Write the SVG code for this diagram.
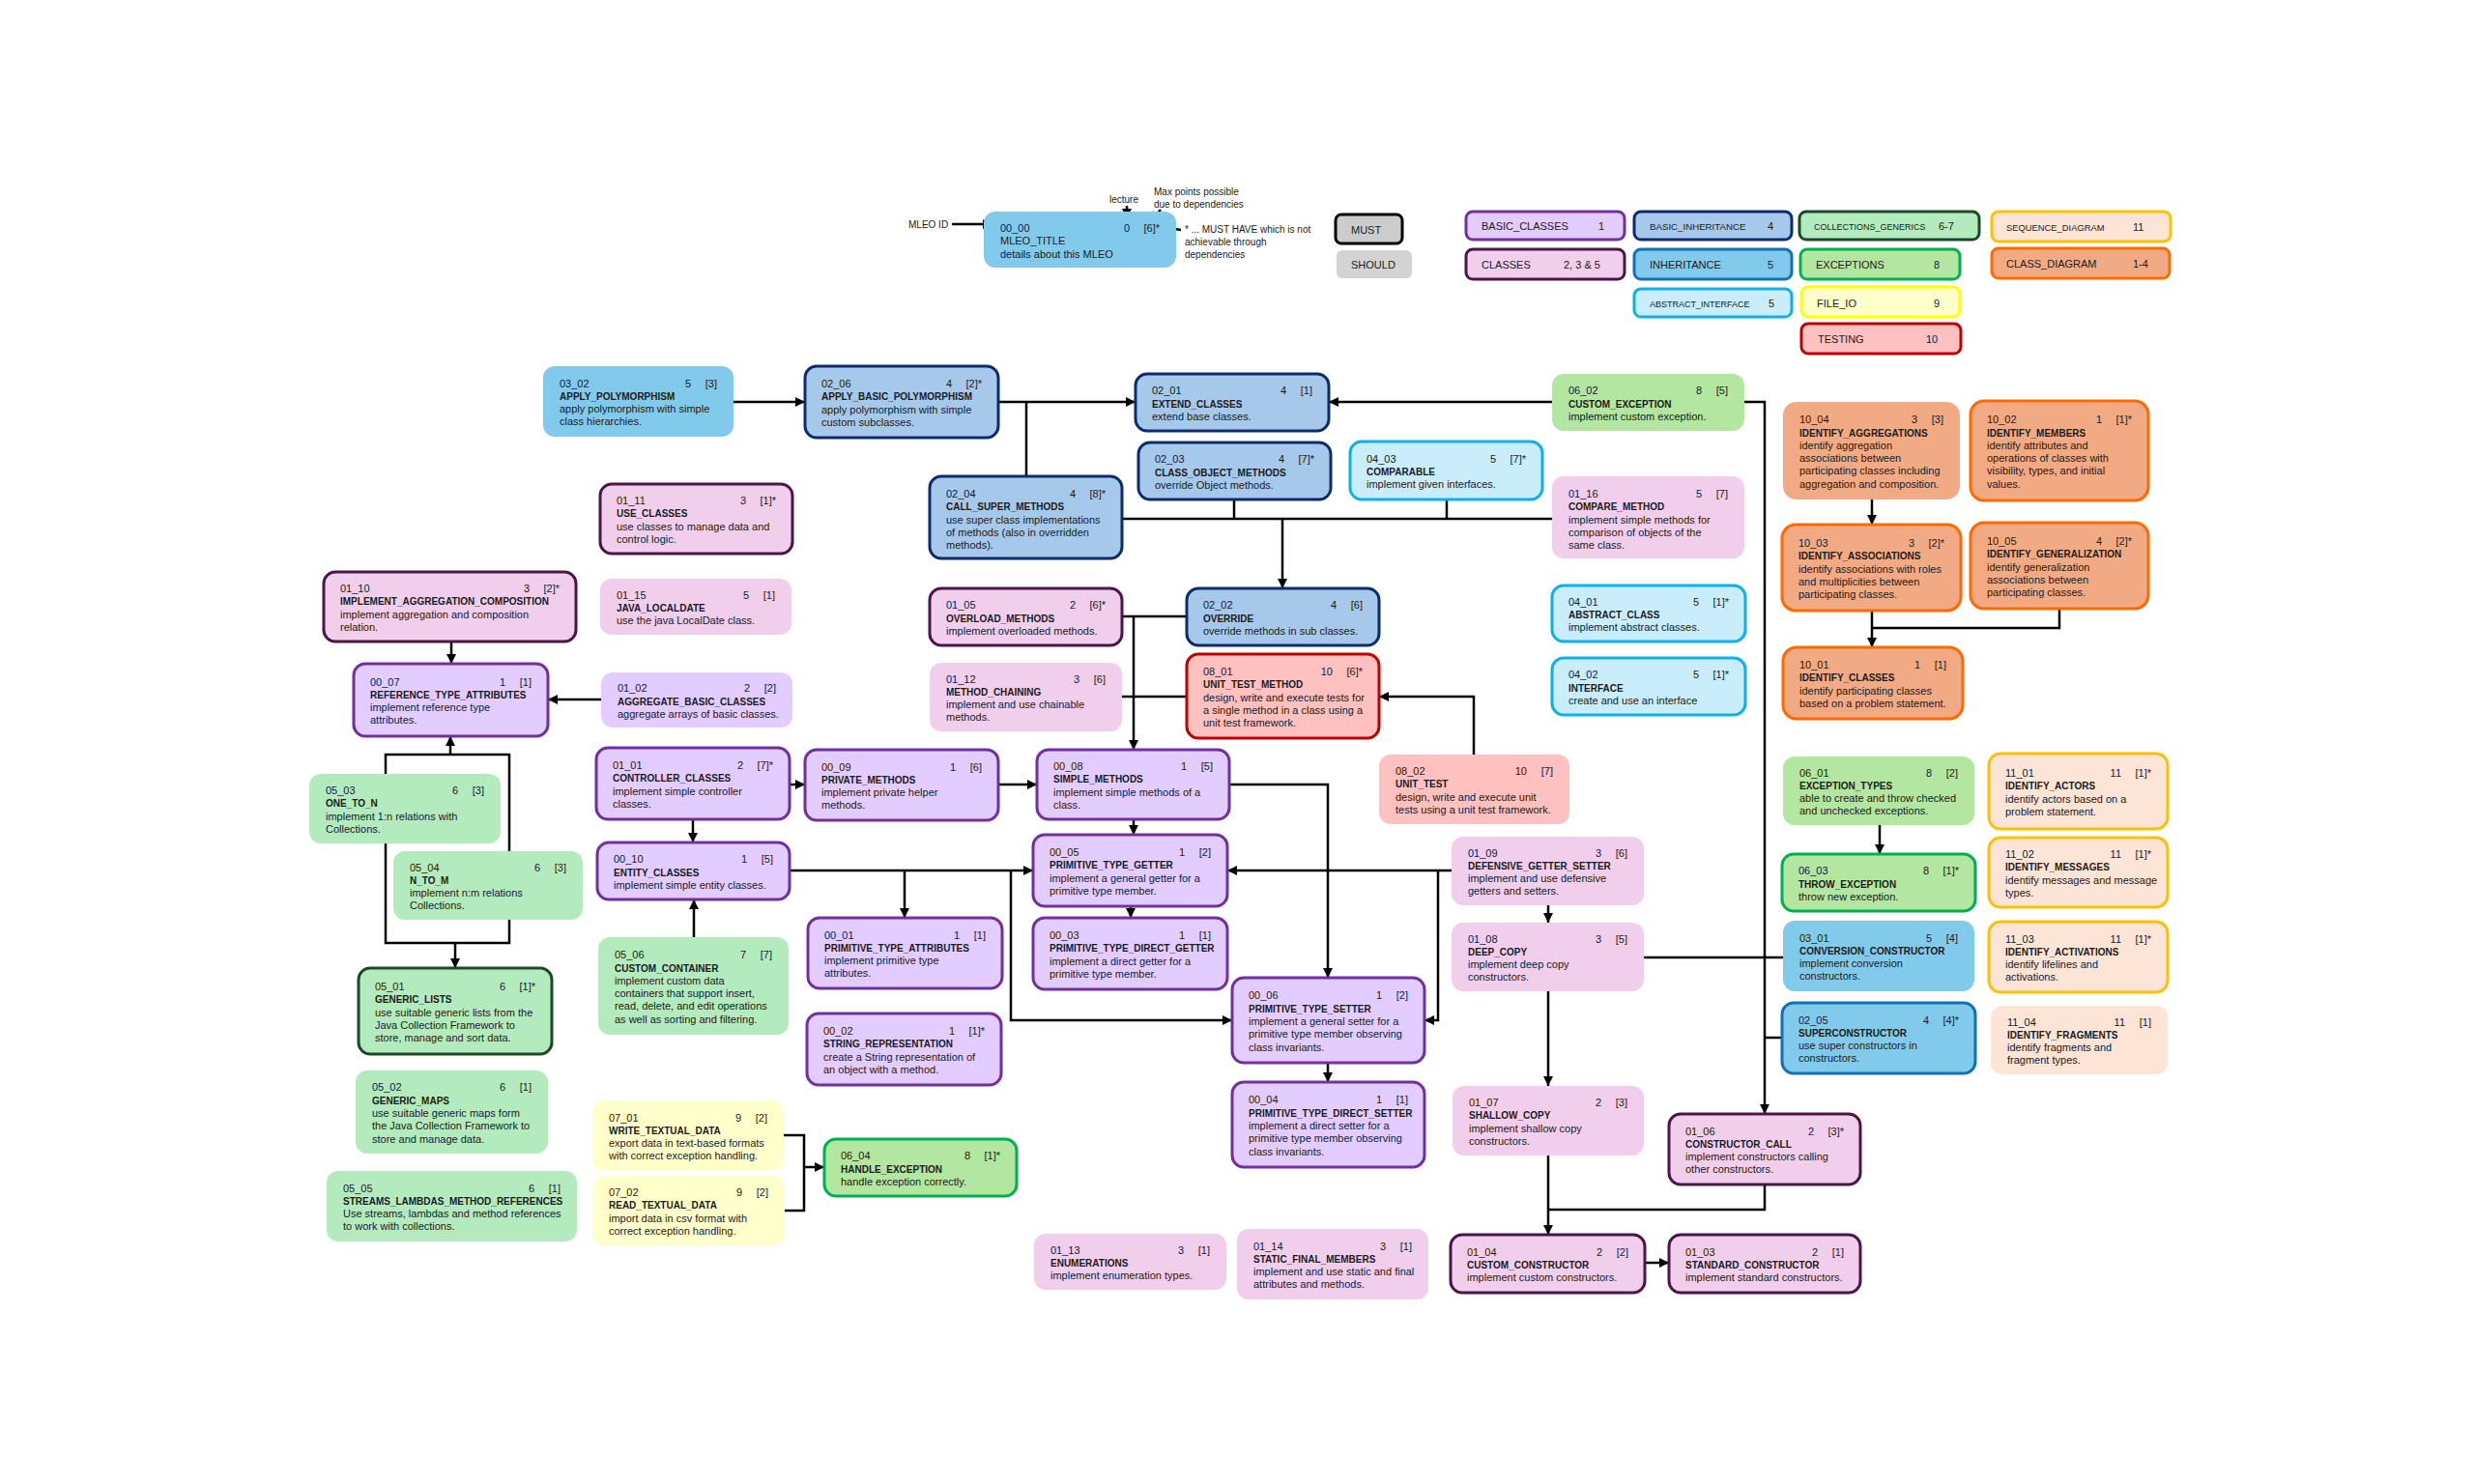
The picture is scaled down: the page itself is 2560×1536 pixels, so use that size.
<svg xmlns="http://www.w3.org/2000/svg" width="2560" height="1536" viewBox="0 0 2560 1536">
<defs>
<style>
text{font-family:"Liberation Sans",Arial,sans-serif;fill:#1a1a1a}
.t{font-size:11px}
.b{font-size:10px;font-weight:bold}
.e{text-anchor:end}
.a{font-size:10px}
.m{stroke-width:3}
.bc{fill:#E3CCFF;stroke:#7030A0}
.cl{fill:#F0CEEC;stroke:#4B1548}
.bi{fill:#A6C8EA;stroke:#0E2C6C}
.in{fill:#82CAEB;stroke:#1070B8}
.ab{fill:#C9EDFB;stroke:#0CB0EE}
.cg{fill:#B4EBBE;stroke:#1B4A27}
.ex{fill:#B3E6A1;stroke:#00B050}
.fi{fill:#FFFFCC;stroke:#FFFF00}
.te{fill:#FFC0C0;stroke:#C00000}
.sq{fill:#FCE4D6;stroke:#FFC000}
.cd{fill:#F2AA84;stroke:#FF6A00}
.s{stroke:none}
.c{fill:none;stroke:#000;stroke-width:2.5}
.ar{marker-end:url(#ah)}
</style>
<marker id="ah" viewBox="0 0 10 10" refX="10" refY="5" markerWidth="10" markerHeight="10" markerUnits="userSpaceOnUse" orient="auto"><path d="M0,0 L10,5 L0,10 z" fill="#000"/></marker>
</defs>
<rect width="2560" height="1536" fill="#fff"/>

<g id="legend">
<text class="a" x="940" y="236">MLEO ID</text>
<text class="a" x="1148" y="210">lecture</text>
<text class="a" x="1194" y="202">Max points possible</text>
<text class="a" x="1194" y="215">due to dependencies</text>
<text class="a" x="1226" y="241">* ... MUST HAVE which is not</text>
<text class="a" x="1226" y="254">achievable through</text>
<text class="a" x="1226" y="267">dependencies</text>
<rect x="1382" y="222" width="69" height="30" rx="6" fill="#CCCCCC" stroke="#000" stroke-width="3"/>
<text class="t" x="1398" y="242">MUST</text>
<rect x="1383" y="259" width="78" height="29" rx="6" fill="#D3D3D3"/>
<text class="t" x="1398" y="278">SHOULD</text>
<rect class="bc m" x="1517" y="219" width="164" height="29" rx="7"/>
<text class="t" x="1533" y="238">BASIC_CLASSES</text><text class="t" x="1654" y="238">1</text>
<rect class="cl m" x="1517" y="258" width="164" height="31" rx="7"/>
<text class="t" x="1533" y="278">CLASSES</text><text class="t" x="1618" y="278">2, 3 &amp; 5</text>
<rect class="bi m" x="1691" y="219" width="163" height="29" rx="7"/>
<text class="t" x="1707" y="238" style="font-size:9.7px">BASIC_INHERITANCE</text><text class="t" x="1829" y="238">4</text>
<rect class="in m" x="1691" y="258" width="163" height="31" rx="7"/>
<text class="t" x="1707" y="278">INHERITANCE</text><text class="t" x="1829" y="278">5</text>
<rect class="ab m" x="1691" y="299" width="163" height="29" rx="7"/>
<text class="t" x="1707" y="318" style="font-size:9px">ABSTRACT_INTERFACE</text><text class="t" x="1830" y="318">5</text>
<rect class="cg m" x="1862" y="219" width="186" height="29" rx="7"/>
<text class="t" x="1877" y="238" style="font-size:9px">COLLECTIONS_GENERICS</text><text class="t" x="2006" y="238">6-7</text>
<rect class="ex m" x="1863" y="258" width="165" height="31" rx="7"/>
<text class="t" x="1879" y="278">EXCEPTIONS</text><text class="t" x="2001" y="278">8</text>
<rect class="fi m" x="1864" y="297" width="164" height="31" rx="7"/>
<text class="t" x="1880" y="318">FILE_IO</text><text class="t" x="2001" y="318">9</text>
<rect class="te m" x="1864" y="335" width="165" height="31" rx="7"/>
<text class="t" x="1881" y="355">TESTING</text><text class="t" x="1993" y="355">10</text>
<rect class="sq m" x="2061" y="219" width="185" height="31" rx="7"/>
<text class="t" x="2076" y="239" style="font-size:9.4px">SEQUENCE_DIAGRAM</text><text class="t" x="2207" y="239">11</text>
<rect class="cd m" x="2061" y="257" width="184" height="31" rx="7"/>
<text class="t" x="2076" y="277">CLASS_DIAGRAM</text><text class="t" x="2207" y="277">1-4</text>
</g>

<g id="connectors">
<path class="c ar" d="M985,232 H1027"/>
<path class="c ar" d="M1166,213 V226" stroke-width="2"/>
<path class="c ar" d="M1201,217 L1191,229" stroke-width="2"/>
<path class="c ar" d="M1222,238 L1198,234" stroke-width="2"/>
<path class="c ar" d="M759,416 H833"/>
<path class="c ar" d="M1033,416 H1175"/>
<path class="c" d="M1062,493 V416"/>
<path class="c ar" d="M1606,416 H1375"/>
<path class="c ar" d="M1805,416 H1826 V1153"/>
<path class="c" d="M1701,991 H1845"/>
<path class="c" d="M1844,1074 H1826"/>
<path class="c" d="M1826,1226 V1252 H1602"/>
<path class="c ar" d="M1602,1196 V1278"/>
<path class="c ar" d="M1702,1307 H1727"/>
<path class="c ar" d="M1602,1026 V1124"/>
<path class="c ar" d="M1602,937 V955"/>
<path class="c" d="M1161,537 H1606"/>
<path class="c" d="M1277,517 V537"/>
<path class="c" d="M1497,517 V537"/>
<path class="c ar" d="M1327,537 V609"/>
<path class="c ar" d="M1937,517 V543"/>
<path class="c ar" d="M1937,632 V670"/>
<path class="c" d="M2131,630 V650 H1937"/>
<path class="c ar" d="M1945,854 V884"/>
<path class="c" d="M1161,638 H1228"/>
<path class="c ar" d="M1173,638 V776"/>
<path class="c" d="M1161,721 H1228"/>
<path class="c ar" d="M1525,781 V721 H1427"/>
<path class="c ar" d="M1272,812 H1374 V1012"/>
<path class="c ar" d="M817,812 H833"/>
<path class="c ar" d="M1033,812 H1073"/>
<path class="c ar" d="M1173,848 V864"/>
<path class="c ar" d="M1170,938 V950"/>
<path class="c ar" d="M817,901 H1069"/>
<path class="c ar" d="M936,901 V950"/>
<path class="c ar" d="M1046,901 V1056 H1275"/>
<path class="c ar" d="M1502,901 H1270"/>
<path class="c ar" d="M1488,901 V1056 H1474"/>
<path class="c ar" d="M1374,1100 V1120"/>
<path class="c ar" d="M717,848 V872"/>
<path class="c ar" d="M718,970 V931"/>
<path class="c ar" d="M467,664 V687"/>
<path class="c ar" d="M622,724 H567"/>
<path class="c" d="M399,976 V781 H527 V976 Z"/>
<path class="c ar" d="M466,781 V762"/>
<path class="c ar" d="M471,976 V1002"/>
<path class="c" d="M811,1175 H832 V1253 H812"/>
<path class="c ar" d="M832,1208 H853"/>
</g>

<g id="n00_00" transform="translate(1018,219)"><rect class="in s" width="199" height="58" rx="12"/><text class="t" y="21"><tspan x="17">00_00</tspan><tspan x="17" dy="13.3">MLEO_TITLE</tspan><tspan x="17" dy="13.3">details about this MLEO</tspan></text><text class="t e" y="21"><tspan x="151">0</tspan><tspan x="182">[6]*</tspan></text></g>

<g id="n03_02" transform="translate(562,379)"><rect class="in s" width="197" height="73" rx="12"/><text class="t" y="21.5"><tspan x="17">03_02</tspan><tspan x="17" dy="13.3" class="b">APPLY_POLYMORPHISM</tspan><tspan x="17" dy="13.3">apply polymorphism with simple</tspan><tspan x="17" dy="13.3">class hierarchies.</tspan></text><text class="t e" y="21.5"><tspan x="153">5</tspan><tspan x="180">[3]</tspan></text></g>

<g id="n02_06" transform="translate(833,379)"><rect class="bi m" width="200" height="74" rx="12"/><text class="t" y="22"><tspan x="17">02_06</tspan><tspan x="17" dy="13.3" class="b">APPLY_BASIC_POLYMORPHISM</tspan><tspan x="17" dy="13.3">apply polymorphism with simple</tspan><tspan x="17" dy="13.3">custom subclasses.</tspan></text><text class="t e" y="22"><tspan x="152">4</tspan><tspan x="183">[2]*</tspan></text></g>

<g id="n02_01" transform="translate(1175,387)"><rect class="bi m" width="200" height="59" rx="12"/><text class="t" y="21.2"><tspan x="17">02_01</tspan><tspan x="17" dy="13.3" class="b">EXTEND_CLASSES</tspan><tspan x="17" dy="13.3">extend base classes.</tspan></text><text class="t e" y="21.2"><tspan x="156">4</tspan><tspan x="183">[1]</tspan></text></g>

<g id="n02_03" transform="translate(1178,458)"><rect class="bi m" width="199" height="59" rx="12"/><text class="t" y="21.2"><tspan x="17">02_03</tspan><tspan x="17" dy="13.3" class="b">CLASS_OBJECT_METHODS</tspan><tspan x="17" dy="13.3">override Object methods.</tspan></text><text class="t e" y="21.2"><tspan x="151">4</tspan><tspan x="182">[7]*</tspan></text></g>

<g id="n04_03" transform="translate(1397,457)"><rect class="ab m" width="199" height="60" rx="12"/><text class="t" y="21.7"><tspan x="17">04_03</tspan><tspan x="17" dy="13.3" class="b">COMPARABLE</tspan><tspan x="17" dy="13.3">implement given interfaces.</tspan></text><text class="t e" y="21.7"><tspan x="151">5</tspan><tspan x="182">[7]*</tspan></text></g>

<g id="n06_02" transform="translate(1606,387)"><rect class="ex s" width="199" height="59" rx="12"/><text class="t" y="21.2"><tspan x="17">06_02</tspan><tspan x="17" dy="13.3" class="b">CUSTOM_EXCEPTION</tspan><tspan x="17" dy="13.3">implement custom exception.</tspan></text><text class="t e" y="21.2"><tspan x="155">8</tspan><tspan x="182">[5]</tspan></text></g>

<g id="n02_04" transform="translate(962,493)"><rect class="bi m" width="199" height="85" rx="12"/><text class="t" y="22"><tspan x="17">02_04</tspan><tspan x="17" dy="13.3" class="b">CALL_SUPER_METHODS</tspan><tspan x="17" dy="13.3">use super class implementations</tspan><tspan x="17" dy="13.3">of methods (also in overridden</tspan><tspan x="17" dy="13.3">methods).</tspan></text><text class="t e" y="22"><tspan x="151">4</tspan><tspan x="182">[8]*</tspan></text></g>

<g id="n01_16" transform="translate(1606,493)"><rect class="cl s" width="199" height="85" rx="12"/><text class="t" y="22"><tspan x="17">01_16</tspan><tspan x="17" dy="13.3" class="b">COMPARE_METHOD</tspan><tspan x="17" dy="13.3">implement simple methods for</tspan><tspan x="17" dy="13.3">comparison of objects of the</tspan><tspan x="17" dy="13.3">same class.</tspan></text><text class="t e" y="22"><tspan x="155">5</tspan><tspan x="182">[7]</tspan></text></g>

<g id="n01_11" transform="translate(621,501)"><rect class="cl m" width="199" height="72" rx="12"/><text class="t" y="21"><tspan x="17">01_11</tspan><tspan x="17" dy="13.3" class="b">USE_CLASSES</tspan><tspan x="17" dy="13.3">use classes to manage data and</tspan><tspan x="17" dy="13.3">control logic.</tspan></text><text class="t e" y="21"><tspan x="151">3</tspan><tspan x="182">[1]*</tspan></text></g>

<g id="n10_04" transform="translate(1845,416)"><rect class="cd s" width="183" height="101" rx="14"/><text class="t" y="22.2"><tspan x="17">10_04</tspan><tspan x="17" dy="13.3" class="b">IDENTIFY_AGGREGATIONS</tspan><tspan x="17" dy="13.3">identify aggregation</tspan><tspan x="17" dy="13.3">associations between</tspan><tspan x="17" dy="13.3">participating classes including</tspan><tspan x="17" dy="13.3">aggregation and composition.</tspan></text><text class="t e" y="22.2"><tspan x="139">3</tspan><tspan x="166">[3]</tspan></text></g>

<g id="n10_02" transform="translate(2039,415)"><rect class="cd m" width="184" height="103" rx="14"/><text class="t" y="23.2"><tspan x="17">10_02</tspan><tspan x="17" dy="13.3" class="b">IDENTIFY_MEMBERS</tspan><tspan x="17" dy="13.3">identify attributes and</tspan><tspan x="17" dy="13.3">operations of classes with</tspan><tspan x="17" dy="13.3">visibility, types, and initial</tspan><tspan x="17" dy="13.3">values.</tspan></text><text class="t e" y="23.2"><tspan x="136">1</tspan><tspan x="167">[1]*</tspan></text></g>

<g id="n10_03" transform="translate(1844,543)"><rect class="cd m" width="185" height="89" rx="14"/><text class="t" y="22.9"><tspan x="17">10_03</tspan><tspan x="17" dy="13.3" class="b">IDENTIFY_ASSOCIATIONS</tspan><tspan x="17" dy="13.3">identify associations with roles</tspan><tspan x="17" dy="13.3">and multiplicities between</tspan><tspan x="17" dy="13.3">participating classes.</tspan></text><text class="t e" y="22.9"><tspan x="137">3</tspan><tspan x="168">[2]*</tspan></text></g>

<g id="n10_05" transform="translate(2039,541)"><rect class="cd m" width="184" height="89" rx="14"/><text class="t" y="22.9"><tspan x="17">10_05</tspan><tspan x="17" dy="13.3" class="b">IDENTIFY_GENERALIZATION</tspan><tspan x="17" dy="13.3">identify generalization</tspan><tspan x="17" dy="13.3">associations between</tspan><tspan x="17" dy="13.3">participating classes.</tspan></text><text class="t e" y="22.9"><tspan x="136">4</tspan><tspan x="167">[2]*</tspan></text></g>

<g id="n10_01" transform="translate(1845,670)"><rect class="cd m" width="186" height="74" rx="14"/><text class="t" y="22"><tspan x="17">10_01</tspan><tspan x="17" dy="13.3" class="b">IDENTIFY_CLASSES</tspan><tspan x="17" dy="13.3">identify participating classes</tspan><tspan x="17" dy="13.3">based on a problem statement.</tspan></text><text class="t e" y="22"><tspan x="142">1</tspan><tspan x="169">[1]</tspan></text></g>

<g id="n01_10" transform="translate(335,592)"><rect class="cl m" width="261" height="72" rx="12"/><text class="t" y="21"><tspan x="17">01_10</tspan><tspan x="17" dy="13.3" class="b">IMPLEMENT_AGGREGATION_COMPOSITION</tspan><tspan x="17" dy="13.3">implement aggregation and composition</tspan><tspan x="17" dy="13.3">relation.</tspan></text><text class="t e" y="21"><tspan x="213">3</tspan><tspan x="244">[2]*</tspan></text></g>

<g id="n01_15" transform="translate(621,599)"><rect class="cl s" width="198" height="58" rx="12"/><text class="t" y="20.7"><tspan x="17">01_15</tspan><tspan x="17" dy="13.3" class="b">JAVA_LOCALDATE</tspan><tspan x="17" dy="13.3">use the java LocalDate class.</tspan></text><text class="t e" y="20.7"><tspan x="154">5</tspan><tspan x="181">[1]</tspan></text></g>

<g id="n01_05" transform="translate(962,609)"><rect class="cl m" width="199" height="59" rx="12"/><text class="t" y="21.2"><tspan x="17">01_05</tspan><tspan x="17" dy="13.3" class="b">OVERLOAD_METHODS</tspan><tspan x="17" dy="13.3">implement overloaded methods.</tspan></text><text class="t e" y="21.2"><tspan x="151">2</tspan><tspan x="182">[6]*</tspan></text></g>

<g id="n02_02" transform="translate(1228,609)"><rect class="bi m" width="199" height="59" rx="12"/><text class="t" y="21.2"><tspan x="17">02_02</tspan><tspan x="17" dy="13.3" class="b">OVERRIDE</tspan><tspan x="17" dy="13.3">override methods in sub classes.</tspan></text><text class="t e" y="21.2"><tspan x="155">4</tspan><tspan x="182">[6]</tspan></text></g>

<g id="n04_01" transform="translate(1606,606)"><rect class="ab m" width="200" height="58" rx="12"/><text class="t" y="20.7"><tspan x="17">04_01</tspan><tspan x="17" dy="13.3" class="b">ABSTRACT_CLASS</tspan><tspan x="17" dy="13.3">implement abstract classes.</tspan></text><text class="t e" y="20.7"><tspan x="152">5</tspan><tspan x="183">[1]*</tspan></text></g>

<g id="n04_02" transform="translate(1606,681)"><rect class="ab m" width="200" height="59" rx="12"/><text class="t" y="21.2"><tspan x="17">04_02</tspan><tspan x="17" dy="13.3" class="b">INTERFACE</tspan><tspan x="17" dy="13.3">create and use an interface</tspan></text><text class="t e" y="21.2"><tspan x="152">5</tspan><tspan x="183">[1]*</tspan></text></g>

<g id="n00_07" transform="translate(366,687)"><rect class="bc m" width="201" height="75" rx="12"/><text class="t" y="22.5"><tspan x="17">00_07</tspan><tspan x="17" dy="13.3" class="b">REFERENCE_TYPE_ATTRIBUTES</tspan><tspan x="17" dy="13.3">implement reference type</tspan><tspan x="17" dy="13.3">attributes.</tspan></text><text class="t e" y="22.5"><tspan x="157">1</tspan><tspan x="184">[1]</tspan></text></g>

<g id="n01_02" transform="translate(622,696)"><rect class="bc s" width="198" height="57" rx="12"/><text class="t" y="20.2"><tspan x="17">01_02</tspan><tspan x="17" dy="13.3" class="b">AGGREGATE_BASIC_CLASSES</tspan><tspan x="17" dy="13.3">aggregate arrays of basic classes.</tspan></text><text class="t e" y="20.2"><tspan x="154">2</tspan><tspan x="181">[2]</tspan></text></g>

<g id="n01_12" transform="translate(962,686)"><rect class="cl s" width="199" height="71" rx="12"/><text class="t" y="20.5"><tspan x="17">01_12</tspan><tspan x="17" dy="13.3" class="b">METHOD_CHAINING</tspan><tspan x="17" dy="13.3">implement and use chainable</tspan><tspan x="17" dy="13.3">methods.</tspan></text><text class="t e" y="20.5"><tspan x="155">3</tspan><tspan x="182">[6]</tspan></text></g>

<g id="n08_01" transform="translate(1228,677)"><rect class="te m" width="199" height="87" rx="12"/><text class="t" y="21.9"><tspan x="17">08_01</tspan><tspan x="17" dy="13.3" class="b">UNIT_TEST_METHOD</tspan><tspan x="17" dy="13.3">design, write and execute tests for</tspan><tspan x="17" dy="13.3">a single method in a class using a</tspan><tspan x="17" dy="13.3">unit test framework.</tspan></text><text class="t e" y="21.9"><tspan x="151">10</tspan><tspan x="182">[6]*</tspan></text></g>

<g id="n01_01" transform="translate(617,774)"><rect class="bc m" width="200" height="74" rx="12"/><text class="t" y="22"><tspan x="17">01_01</tspan><tspan x="17" dy="13.3" class="b">CONTROLLER_CLASSES</tspan><tspan x="17" dy="13.3">implement simple controller</tspan><tspan x="17" dy="13.3">classes.</tspan></text><text class="t e" y="22"><tspan x="152">2</tspan><tspan x="183">[7]*</tspan></text></g>

<g id="n00_09" transform="translate(833,776)"><rect class="bc m" width="200" height="73" rx="12"/><text class="t" y="21.5"><tspan x="17">00_09</tspan><tspan x="17" dy="13.3" class="b">PRIVATE_METHODS</tspan><tspan x="17" dy="13.3">implement private helper</tspan><tspan x="17" dy="13.3">methods.</tspan></text><text class="t e" y="21.5"><tspan x="156">1</tspan><tspan x="183">[6]</tspan></text></g>

<g id="n00_08" transform="translate(1073,776)"><rect class="bc m" width="199" height="72" rx="12"/><text class="t" y="21"><tspan x="17">00_08</tspan><tspan x="17" dy="13.3" class="b">SIMPLE_METHODS</tspan><tspan x="17" dy="13.3">implement simple methods of a</tspan><tspan x="17" dy="13.3">class.</tspan></text><text class="t e" y="21"><tspan x="155">1</tspan><tspan x="182">[5]</tspan></text></g>

<g id="n08_02" transform="translate(1427,781)"><rect class="te s" width="197" height="72" rx="12"/><text class="t" y="21"><tspan x="17">08_02</tspan><tspan x="17" dy="13.3" class="b">UNIT_TEST</tspan><tspan x="17" dy="13.3">design, write and execute unit</tspan><tspan x="17" dy="13.3">tests using a unit test framework.</tspan></text><text class="t e" y="21"><tspan x="153">10</tspan><tspan x="180">[7]</tspan></text></g>

<g id="n05_03" transform="translate(320,801)"><rect class="cg s" width="198" height="72" rx="12"/><text class="t" y="21"><tspan x="17">05_03</tspan><tspan x="17" dy="13.3" class="b">ONE_TO_N</tspan><tspan x="17" dy="13.3">implement 1:n relations with</tspan><tspan x="17" dy="13.3">Collections.</tspan></text><text class="t e" y="21"><tspan x="154">6</tspan><tspan x="181">[3]</tspan></text></g>

<g id="n06_01" transform="translate(1845,783)"><rect class="ex s" width="198" height="71" rx="12"/><text class="t" y="20.5"><tspan x="17">06_01</tspan><tspan x="17" dy="13.3" class="b">EXCEPTION_TYPES</tspan><tspan x="17" dy="13.3">able to create and throw checked</tspan><tspan x="17" dy="13.3">and unchecked exceptions.</tspan></text><text class="t e" y="20.5"><tspan x="154">8</tspan><tspan x="181">[2]</tspan></text></g>

<g id="n11_01" transform="translate(2058,780)"><rect class="sq m" width="185" height="78" rx="12"/><text class="t" y="24"><tspan x="17">11_01</tspan><tspan x="17" dy="13.3" class="b">IDENTIFY_ACTORS</tspan><tspan x="17" dy="13.3">identify actors based on a</tspan><tspan x="17" dy="13.3">problem statement.</tspan></text><text class="t e" y="24"><tspan x="137">11</tspan><tspan x="168">[1]*</tspan></text></g>

<g id="n00_05" transform="translate(1069,864)"><rect class="bc m" width="201" height="74" rx="12"/><text class="t" y="22"><tspan x="17">00_05</tspan><tspan x="17" dy="13.3" class="b">PRIMITIVE_TYPE_GETTER</tspan><tspan x="17" dy="13.3">implement a general getter for a</tspan><tspan x="17" dy="13.3">primitive type member.</tspan></text><text class="t e" y="22"><tspan x="157">1</tspan><tspan x="184">[2]</tspan></text></g>

<g id="n01_09" transform="translate(1502,866)"><rect class="cl s" width="199" height="71" rx="12"/><text class="t" y="20.5"><tspan x="17">01_09</tspan><tspan x="17" dy="13.3" class="b">DEFENSIVE_GETTER_SETTER</tspan><tspan x="17" dy="13.3">implement and use defensive</tspan><tspan x="17" dy="13.3">getters and setters.</tspan></text><text class="t e" y="20.5"><tspan x="155">3</tspan><tspan x="182">[6]</tspan></text></g>

<g id="n00_10" transform="translate(618,872)"><rect class="bc m" width="199" height="59" rx="12"/><text class="t" y="21.2"><tspan x="17">00_10</tspan><tspan x="17" dy="13.3" class="b">ENTITY_CLASSES</tspan><tspan x="17" dy="13.3">implement simple entity classes.</tspan></text><text class="t e" y="21.2"><tspan x="155">1</tspan><tspan x="182">[5]</tspan></text></g>

<g id="n05_04" transform="translate(407,881)"><rect class="cg s" width="196" height="71" rx="12"/><text class="t" y="20.5"><tspan x="17">05_04</tspan><tspan x="17" dy="13.3" class="b">N_TO_M</tspan><tspan x="17" dy="13.3">implement n:m relations</tspan><tspan x="17" dy="13.3">Collections.</tspan></text><text class="t e" y="20.5"><tspan x="152">6</tspan><tspan x="179">[3]</tspan></text></g>

<g id="n06_03" transform="translate(1844,884)"><rect class="ex m" width="200" height="59" rx="12"/><text class="t" y="21.2"><tspan x="17">06_03</tspan><tspan x="17" dy="13.3" class="b">THROW_EXCEPTION</tspan><tspan x="17" dy="13.3">throw new exception.</tspan></text><text class="t e" y="21.2"><tspan x="152">8</tspan><tspan x="183">[1]*</tspan></text></g>

<g id="n11_02" transform="translate(2058,867)"><rect class="sq m" width="185" height="72" rx="12"/><text class="t" y="21"><tspan x="17">11_02</tspan><tspan x="17" dy="13.3" class="b">IDENTIFY_MESSAGES</tspan><tspan x="17" dy="13.3">identify messages and message</tspan><tspan x="17" dy="13.3">types.</tspan></text><text class="t e" y="21"><tspan x="137">11</tspan><tspan x="168">[1]*</tspan></text></g>

<g id="n00_01" transform="translate(836,950)"><rect class="bc m" width="201" height="73" rx="12"/><text class="t" y="21.5"><tspan x="17">00_01</tspan><tspan x="17" dy="13.3" class="b">PRIMITIVE_TYPE_ATTRIBUTES</tspan><tspan x="17" dy="13.3">implement primitive type</tspan><tspan x="17" dy="13.3">attributes.</tspan></text><text class="t e" y="21.5"><tspan x="157">1</tspan><tspan x="184">[1]</tspan></text></g>

<g id="n00_03" transform="translate(1069,950)"><rect class="bc m" width="201" height="74" rx="12"/><text class="t" y="22"><tspan x="17">00_03</tspan><tspan x="17" dy="13.3" class="b">PRIMITIVE_TYPE_DIRECT_GETTER</tspan><tspan x="17" dy="13.3">implement a direct getter for a</tspan><tspan x="17" dy="13.3">primitive type member.</tspan></text><text class="t e" y="22"><tspan x="157">1</tspan><tspan x="184">[1]</tspan></text></g>

<g id="n01_08" transform="translate(1502,955)"><rect class="cl s" width="199" height="71" rx="12"/><text class="t" y="20.5"><tspan x="17">01_08</tspan><tspan x="17" dy="13.3" class="b">DEEP_COPY</tspan><tspan x="17" dy="13.3">implement deep copy</tspan><tspan x="17" dy="13.3">constructors.</tspan></text><text class="t e" y="20.5"><tspan x="155">3</tspan><tspan x="182">[5]</tspan></text></g>

<g id="n03_01" transform="translate(1845,953)"><rect class="in s" width="198" height="73" rx="12"/><text class="t" y="21.5"><tspan x="17">03_01</tspan><tspan x="17" dy="13.3" class="b">CONVERSION_CONSTRUCTOR</tspan><tspan x="17" dy="13.3">implement conversion</tspan><tspan x="17" dy="13.3">constructors.</tspan></text><text class="t e" y="21.5"><tspan x="154">5</tspan><tspan x="181">[4]</tspan></text></g>

<g id="n11_03" transform="translate(2058,954)"><rect class="sq m" width="185" height="73" rx="12"/><text class="t" y="21.5"><tspan x="17">11_03</tspan><tspan x="17" dy="13.3" class="b">IDENTIFY_ACTIVATIONS</tspan><tspan x="17" dy="13.3">identify lifelines and</tspan><tspan x="17" dy="13.3">activations.</tspan></text><text class="t e" y="21.5"><tspan x="137">11</tspan><tspan x="168">[1]*</tspan></text></g>

<g id="n05_06" transform="translate(619,970)"><rect class="cg s" width="197" height="101" rx="12"/><text class="t" y="22.2"><tspan x="17">05_06</tspan><tspan x="17" dy="13.3" class="b">CUSTOM_CONTAINER</tspan><tspan x="17" dy="13.3">implement custom data</tspan><tspan x="17" dy="13.3">containers that support insert,</tspan><tspan x="17" dy="13.3">read, delete, and edit operations</tspan><tspan x="17" dy="13.3">as well as sorting and filtering.</tspan></text><text class="t e" y="22.2"><tspan x="153">7</tspan><tspan x="180">[7]</tspan></text></g>

<g id="n05_01" transform="translate(371,1002)"><rect class="cg m" width="200" height="89" rx="12"/><text class="t" y="22.9"><tspan x="17">05_01</tspan><tspan x="17" dy="13.3" class="b">GENERIC_LISTS</tspan><tspan x="17" dy="13.3">use suitable generic lists from the</tspan><tspan x="17" dy="13.3">Java Collection Framework to</tspan><tspan x="17" dy="13.3">store, manage and sort data.</tspan></text><text class="t e" y="22.9"><tspan x="152">6</tspan><tspan x="183">[1]*</tspan></text></g>

<g id="n00_06" transform="translate(1275,1012)"><rect class="bc m" width="199" height="88" rx="12"/><text class="t" y="22.4"><tspan x="17">00_06</tspan><tspan x="17" dy="13.3" class="b">PRIMITIVE_TYPE_SETTER</tspan><tspan x="17" dy="13.3">implement a general setter for a</tspan><tspan x="17" dy="13.3">primitive type member observing</tspan><tspan x="17" dy="13.3">class invariants.</tspan></text><text class="t e" y="22.4"><tspan x="155">1</tspan><tspan x="182">[2]</tspan></text></g>

<g id="n02_05" transform="translate(1844,1038)"><rect class="in m" width="200" height="73" rx="12"/><text class="t" y="21.5"><tspan x="17">02_05</tspan><tspan x="17" dy="13.3" class="b">SUPERCONSTRUCTOR</tspan><tspan x="17" dy="13.3">use super constructors in</tspan><tspan x="17" dy="13.3">constructors.</tspan></text><text class="t e" y="21.5"><tspan x="152">4</tspan><tspan x="183">[4]*</tspan></text></g>

<g id="n11_04" transform="translate(2060,1041)"><rect class="sq s" width="183" height="71" rx="12"/><text class="t" y="20.5"><tspan x="17">11_04</tspan><tspan x="17" dy="13.3" class="b">IDENTIFY_FRAGMENTS</tspan><tspan x="17" dy="13.3">identify fragments and</tspan><tspan x="17" dy="13.3">fragment types.</tspan></text><text class="t e" y="20.5"><tspan x="139">11</tspan><tspan x="166">[1]</tspan></text></g>

<g id="n00_02" transform="translate(835,1049)"><rect class="bc m" width="201" height="74" rx="12"/><text class="t" y="22"><tspan x="17">00_02</tspan><tspan x="17" dy="13.3" class="b">STRING_REPRESENTATION</tspan><tspan x="17" dy="13.3">create a String representation of</tspan><tspan x="17" dy="13.3">an object with a method.</tspan></text><text class="t e" y="22"><tspan x="153">1</tspan><tspan x="184">[1]*</tspan></text></g>

<g id="n05_02" transform="translate(368,1108)"><rect class="cg s" width="199" height="86" rx="12"/><text class="t" y="21.4"><tspan x="17">05_02</tspan><tspan x="17" dy="13.3" class="b">GENERIC_MAPS</tspan><tspan x="17" dy="13.3">use suitable generic maps form</tspan><tspan x="17" dy="13.3">the Java Collection Framework to</tspan><tspan x="17" dy="13.3">store and manage data.</tspan></text><text class="t e" y="21.4"><tspan x="155">6</tspan><tspan x="182">[1]</tspan></text></g>

<g id="n00_04" transform="translate(1275,1120)"><rect class="bc m" width="199" height="88" rx="12"/><text class="t" y="22.4"><tspan x="17">00_04</tspan><tspan x="17" dy="13.3" class="b">PRIMITIVE_TYPE_DIRECT_SETTER</tspan><tspan x="17" dy="13.3">implement a direct setter for a</tspan><tspan x="17" dy="13.3">primitive type member observing</tspan><tspan x="17" dy="13.3">class invariants.</tspan></text><text class="t e" y="22.4"><tspan x="155">1</tspan><tspan x="182">[1]</tspan></text></g>

<g id="n01_07" transform="translate(1503,1124)"><rect class="cl s" width="198" height="72" rx="12"/><text class="t" y="21"><tspan x="17">01_07</tspan><tspan x="17" dy="13.3" class="b">SHALLOW_COPY</tspan><tspan x="17" dy="13.3">implement shallow copy</tspan><tspan x="17" dy="13.3">constructors.</tspan></text><text class="t e" y="21"><tspan x="154">2</tspan><tspan x="181">[3]</tspan></text></g>

<g id="n07_01" transform="translate(613,1139)"><rect class="fi s" width="198" height="73" rx="12"/><text class="t" y="21.5"><tspan x="17">07_01</tspan><tspan x="17" dy="13.3" class="b">WRITE_TEXTUAL_DATA</tspan><tspan x="17" dy="13.3">export data in text-based formats</tspan><tspan x="17" dy="13.3">with correct exception handling.</tspan></text><text class="t e" y="21.5"><tspan x="154">9</tspan><tspan x="181">[2]</tspan></text></g>

<g id="n01_06" transform="translate(1727,1153)"><rect class="cl m" width="198" height="73" rx="12"/><text class="t" y="21.5"><tspan x="17">01_06</tspan><tspan x="17" dy="13.3" class="b">CONSTRUCTOR_CALL</tspan><tspan x="17" dy="13.3">implement constructors calling</tspan><tspan x="17" dy="13.3">other constructors.</tspan></text><text class="t e" y="21.5"><tspan x="150">2</tspan><tspan x="181">[3]*</tspan></text></g>

<g id="n06_04" transform="translate(853,1179)"><rect class="ex m" width="199" height="59" rx="12"/><text class="t" y="21.2"><tspan x="17">06_04</tspan><tspan x="17" dy="13.3" class="b">HANDLE_EXCEPTION</tspan><tspan x="17" dy="13.3">handle exception correctly.</tspan></text><text class="t e" y="21.2"><tspan x="151">8</tspan><tspan x="182">[1]*</tspan></text></g>

<g id="n05_05" transform="translate(338,1212)"><rect class="cg s" width="259" height="73" rx="12"/><text class="t" y="21.5"><tspan x="17">05_05</tspan><tspan x="17" dy="13.3" class="b">STREAMS_LAMBDAS_METHOD_REFERENCES</tspan><tspan x="17" dy="13.3">Use streams, lambdas and method references</tspan><tspan x="17" dy="13.3">to work with collections.</tspan></text><text class="t e" y="21.5"><tspan x="215">6</tspan><tspan x="242">[1]</tspan></text></g>

<g id="n07_02" transform="translate(613,1217)"><rect class="fi s" width="199" height="72" rx="12"/><text class="t" y="21"><tspan x="17">07_02</tspan><tspan x="17" dy="13.3" class="b">READ_TEXTUAL_DATA</tspan><tspan x="17" dy="13.3">import data in csv format with</tspan><tspan x="17" dy="13.3">correct exception handling.</tspan></text><text class="t e" y="21"><tspan x="155">9</tspan><tspan x="182">[2]</tspan></text></g>

<g id="n01_13" transform="translate(1070,1277)"><rect class="cl s" width="199" height="58" rx="12"/><text class="t" y="20.7"><tspan x="17">01_13</tspan><tspan x="17" dy="13.3" class="b">ENUMERATIONS</tspan><tspan x="17" dy="13.3">implement enumeration types.</tspan></text><text class="t e" y="20.7"><tspan x="155">3</tspan><tspan x="182">[1]</tspan></text></g>

<g id="n01_14" transform="translate(1280,1272)"><rect class="cl s" width="198" height="73" rx="12"/><text class="t" y="21.5"><tspan x="17">01_14</tspan><tspan x="17" dy="13.3" class="b">STATIC_FINAL_MEMBERS</tspan><tspan x="17" dy="13.3">implement and use static and final</tspan><tspan x="17" dy="13.3">attributes and methods.</tspan></text><text class="t e" y="21.5"><tspan x="154">3</tspan><tspan x="181">[1]</tspan></text></g>

<g id="n01_04" transform="translate(1501,1278)"><rect class="cl m" width="201" height="60" rx="12"/><text class="t" y="21.7"><tspan x="17">01_04</tspan><tspan x="17" dy="13.3" class="b">CUSTOM_CONSTRUCTOR</tspan><tspan x="17" dy="13.3">implement custom constructors.</tspan></text><text class="t e" y="21.7"><tspan x="157">2</tspan><tspan x="184">[2]</tspan></text></g>

<g id="n01_03" transform="translate(1727,1278)"><rect class="cl m" width="198" height="60" rx="12"/><text class="t" y="21.7"><tspan x="17">01_03</tspan><tspan x="17" dy="13.3" class="b">STANDARD_CONSTRUCTOR</tspan><tspan x="17" dy="13.3">implement standard constructors.</tspan></text><text class="t e" y="21.7"><tspan x="154">2</tspan><tspan x="181">[1]</tspan></text></g>
</svg>
